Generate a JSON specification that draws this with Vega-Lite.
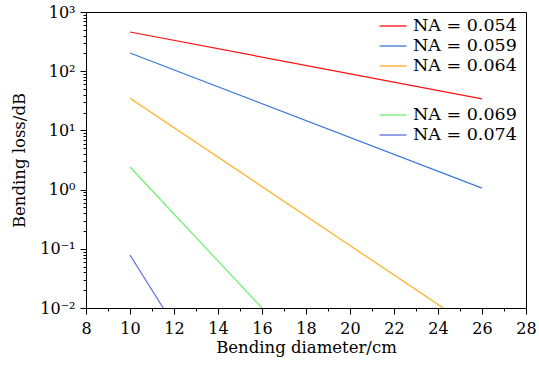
{
  "$schema": "https://vega.github.io/schema/vega-lite/v6.json",
  "width": 440,
  "height": 296,
  "autosize": "none",
  "padding": {"left": 86, "top": 12, "right": 13, "bottom": 57},
  "background": "white",
  "config": {
    "view": {"stroke": "black", "strokeWidth": 1},
    "font": "DejaVu Serif",
    "axis": {
      "domainColor": "black",
      "tickColor": "black",
      "labelColor": "black",
      "titleColor": "black",
      "labelFont": "DejaVu Serif",
      "titleFont": "DejaVu Serif",
      "labelFontSize": 16,
      "titleFontSize": 16.5,
      "titleFontWeight": "normal",
      "grid": false
    }
  },
  "datasets": {
    "a": [
      {"d": 10, "loss": 459, "na": "NA = 0.054"},
      {"d": 26, "loss": 34, "na": "NA = 0.054"},
      {"d": 10, "loss": 203, "na": "NA = 0.059"},
      {"d": 26, "loss": 1.06, "na": "NA = 0.059"},
      {"d": 10, "loss": 35, "na": "NA = 0.064"},
      {"d": 24.24, "loss": 0.01, "na": "NA = 0.064"}
    ],
    "b": [
      {"d": 10, "loss": 2.41, "na": "NA = 0.069"},
      {"d": 16.0, "loss": 0.01, "na": "NA = 0.069"},
      {"d": 10, "loss": 0.0785, "na": "NA = 0.074"},
      {"d": 11.51, "loss": 0.01, "na": "NA = 0.074"}
    ]
  },
  "encoding": {
    "x": {
      "field": "d",
      "type": "quantitative",
      "scale": {"domain": [8, 28], "nice": false, "zero": false},
      "axis": {
        "title": "Bending diameter/cm",
        "values": [8, 9, 10, 11, 12, 13, 14, 15, 16, 17, 18, 19, 20, 21, 22, 23, 24, 25, 26, 27, 28],
        "labelExpr": "datum.value % 2 == 0 ? datum.label : ''",
        "tickSize": {"condition": {"test": "datum.value % 2 == 0", "value": 6}, "value": 3},
        "labelPadding": 6,
        "titlePadding": 3,
        "labelFlush": false,
        "labelOverlap": false
      }
    },
    "y": {
      "field": "loss",
      "type": "quantitative",
      "scale": {"type": "log", "domain": [0.01, 1000], "nice": false},
      "axis": {
        "title": "Bending loss/dB",
        "values": [0.01, 0.02, 0.03, 0.04, 0.05, 0.06, 0.07, 0.08, 0.09, 0.1, 0.2, 0.3, 0.4, 0.5, 0.6, 0.7, 0.8, 0.9, 1, 2, 3, 4, 5, 6, 7, 8, 9, 10, 20, 30, 40, 50, 60, 70, 80, 90, 100, 200, 300, 400, 500, 600, 700, 800, 900, 1000],
        "labelExpr": "datum.value == 1000 ? '10³' : datum.value == 100 ? '10²' : datum.value == 10 ? '10¹' : datum.value == 1 ? '10⁰' : datum.value == 0.1 ? '10⁻¹' : datum.value == 0.01 ? '10⁻²' : ''",
        "tickSize": {"condition": {"test": "indexof([0.01, 0.1, 1, 10, 100, 1000], datum.value) >= 0", "value": 6}, "value": 3},
        "labelPadding": 5,
        "titlePadding": 12,
        "labelFlush": false,
        "labelOverlap": false
      }
    }
  },
  "layer": [
    {
      "data": {"name": "a"},
      "mark": {"type": "line", "strokeWidth": 1.2, "clip": true},
      "encoding": {
        "color": {
          "field": "na",
          "type": "nominal",
          "scale": {"domain": ["NA = 0.054", "NA = 0.059", "NA = 0.064"], "range": ["#ff1010", "#3a78d8", "#ffae20"]},
          "legend": {
            "title": null,
            "orient": "none",
            "legendX": 296,
            "legendY": 3,
            "symbolType": "M-1.35,0H1.35",
            "symbolSize": 400,
            "symbolStrokeWidth": 1.3,
            "labelFont": "DejaVu Serif",
            "labelFontSize": 17.5,
            "labelColor": "black",
            "rowPadding": 0,
            "labelOffset": 9
          }
        }
      }
    },
    {
      "data": {"name": "b"},
      "mark": {"type": "line", "strokeWidth": 1.2, "clip": true},
      "encoding": {
        "color": {
          "field": "na",
          "type": "nominal",
          "scale": {"domain": ["NA = 0.069", "NA = 0.074"], "range": ["#6cf06c", "#5c6cd8"]},
          "legend": {
            "title": null,
            "orient": "none",
            "legendX": 296,
            "legendY": 92,
            "symbolType": "M-1.35,0H1.35",
            "symbolSize": 400,
            "symbolStrokeWidth": 1.3,
            "labelFont": "DejaVu Serif",
            "labelFontSize": 17.5,
            "labelColor": "black",
            "rowPadding": 0,
            "labelOffset": 9
          }
        }
      }
    }
  ],
  "resolve": {"scale": {"color": "independent"}}
}
